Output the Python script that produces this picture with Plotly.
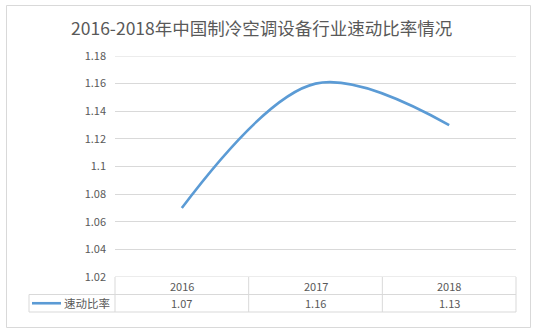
import plotly.graph_objects as go

title = "2016-2018年中国制冷空调设备行业速动比率情况"
categories = ["2016", "2017", "2018"]
series_name = "速动比率"
values = [1.07, 1.16, 1.13]
value_labels = ["1.07", "1.16", "1.13"]
y_ticks = [1.02, 1.04, 1.06, 1.08, 1.10, 1.12, 1.14, 1.16, 1.18]
y_tick_text = ["1.02", "1.04", "1.06", "1.08", "1.1", "1.12", "1.14", "1.16", "1.18"]

W, H = 539, 332
L, R, T, B = 115, 23, 56, 55
font = "Microsoft YaHei, Noto Sans CJK SC, sans-serif"
txt = "#595959"
grid = "#d9d9d9"
blue = "#5b9bd5"

fig = go.Figure()
fig.add_trace(go.Scatter(
    x=list(range(len(categories))), y=values, mode="lines",
    line=dict(color=blue, width=2.6, shape="spline", smoothing=1.0),
    showlegend=False, hoverinfo="skip"))

def px2x(px):
    return (px - L) / (W - L - R)

def px2y(py):
    return 1 - (py - T) / (H - T - B)

shapes = []
annotations = []
line = dict(color=grid, width=1)
# outer border
shapes.append(dict(type="rect", xref="paper", yref="paper",
                   x0=px2x(6.5), x1=px2x(530.5), y0=px2y(327.5), y1=px2y(5.5), line=line))
# edge gridlines (top and bottom of value range)
for yv in (y_ticks[0], y_ticks[-1]):
    shapes.append(dict(type="line", xref="paper", yref="y", x0=0, x1=1, y0=yv, y1=yv,
                       line=line))
# table geometry
y_top, y_mid, y_bot = 277, 294.5, 312
x_leg = 29
n = len(categories)
shapes.append(dict(type="line", xref="paper", yref="paper", x0=px2x(x_leg), x1=1,
                   y0=px2y(y_mid), y1=px2y(y_mid), line=line))
shapes.append(dict(type="line", xref="paper", yref="paper", x0=px2x(x_leg), x1=1,
                   y0=px2y(y_bot), y1=px2y(y_bot), line=line))
shapes.append(dict(type="line", xref="paper", yref="paper", x0=px2x(x_leg), x1=px2x(x_leg),
                   y0=px2y(y_mid), y1=px2y(y_bot), line=line))
for i in range(n + 1):
    xx = i / n
    shapes.append(dict(type="line", xref="paper", yref="paper", x0=xx, x1=xx,
                       y0=px2y(y_top), y1=px2y(y_bot), line=line))
cell = dict(showarrow=False, xanchor="center", yanchor="middle",
            font=dict(size=11, color=txt, family=font))
for i, (c, v) in enumerate(zip(categories, value_labels)):
    xc = (i + 0.5) / n
    annotations.append(dict(xref="paper", yref="paper", x=xc, y=px2y((y_top + y_mid) / 2),
                            text=c, **cell))
    annotations.append(dict(xref="paper", yref="paper", x=xc, y=px2y((y_mid + y_bot) / 2),
                            text=v, **cell))
# legend key
shapes.append(dict(type="line", xref="paper", yref="paper", x0=px2x(32), x1=px2x(61),
                   y0=px2y((y_mid + y_bot) / 2), y1=px2y((y_mid + y_bot) / 2),
                   line=dict(color=blue, width=2.6)))
annotations.append(dict(xref="paper", yref="paper", x=px2x(112), y=px2y((y_mid + y_bot) / 2),
                        xanchor="right", yanchor="middle", text=series_name, showarrow=False,
                        font=dict(size=11.5, color=txt, family=font)))
# title
annotations.append(dict(xref="paper", yref="paper", x=px2x(261), y=px2y(27),
                        xanchor="center", yanchor="middle",
                        text=title, showarrow=False,
                        font=dict(size=17.5, color=txt, family=font)))

fig.update_layout(
    width=W, height=H,
    margin=dict(l=L, r=R, t=T, b=B),
    paper_bgcolor="white", plot_bgcolor="white",
    xaxis=dict(range=[-0.5, n - 0.5], showticklabels=False, showgrid=False,
               zeroline=False, showline=False, fixedrange=True),
    yaxis=dict(range=[1.02, 1.18], tickvals=y_ticks, ticktext=y_tick_text,
               showgrid=True, gridcolor=grid, gridwidth=1, zeroline=False,
               showline=False, ticks="", ticklabelstandoff=8,
               tickfont=dict(size=11, color=txt, family=font)),
    shapes=shapes, annotations=annotations,
)
fig.write_html("out.html")
